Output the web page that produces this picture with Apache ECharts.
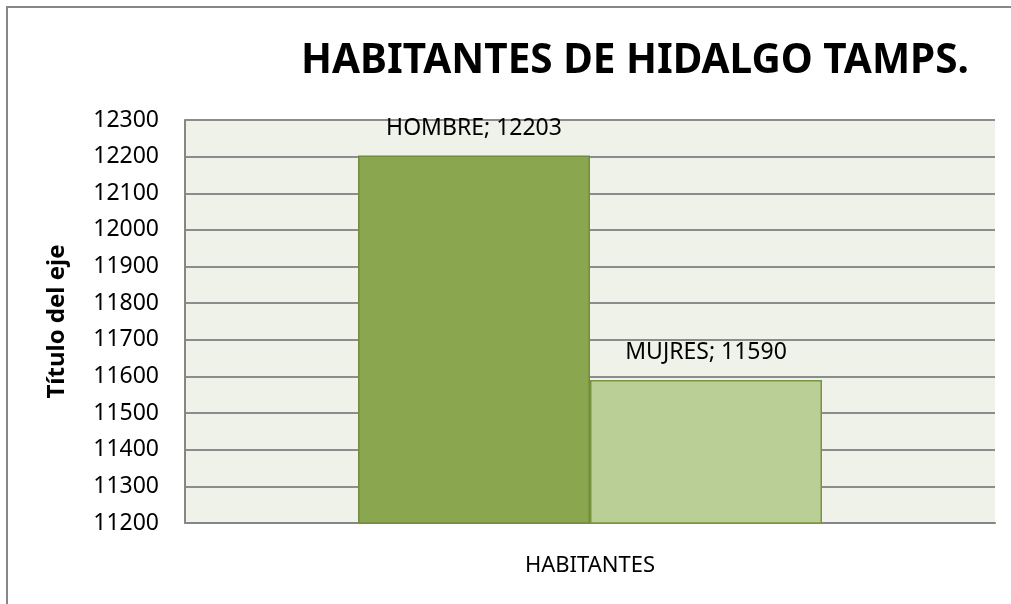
<!DOCTYPE html>
<html>
<head>
<meta charset="utf-8">
<script src="https://cdn.jsdelivr.net/npm/echarts@6/dist/echarts.min.js"></script>
<style>
  html, body { margin: 0; padding: 0; background: #ffffff; }
  #chart { width: 1011px; height: 604px; }
</style>
</head>
<body>
<div id="chart"></div>
<script>
const categories = ['HABITANTES'];
const seriesNames = ['HOMBRE', 'MUJRES'];
const hombreValues = [12203];
const mujeresValues = [11590];
const yTicks = { min: 11200, max: 12300, interval: 100 };

const chart = echarts.init(document.getElementById('chart'));

const barLabel = {
  show: true,
  position: 'top',
  distance: 16,
  color: '#000000',
  fontSize: 23,
  fontFamily: 'Noto Sans',
  formatter: '{a}; {c}'
};

chart.setOption({
  animation: false,
  title: {
    text: 'HABITANTES DE HIDALGO TAMPS.',
    left: 630,
    top: 36,
    textAlign: 'center',
    textStyle: {
      fontFamily: 'Noto Sans',
      fontWeight: 'bold',
      fontSize: 40.5,
      color: '#000000'
    }
  },
  graphic: [
    {
      type: 'rect',
      shape: { x: 7, y: 7, width: 1100, height: 700 },
      style: { fill: 'none', stroke: '#878787', lineWidth: 2 },
      z: -1
    }
  ],
  grid: {
    left: 185,
    top: 120,
    right: 16,
    bottom: 81,
    show: true,
    backgroundColor: '#eff2e9',
    borderWidth: 0
  },
  xAxis: {
    type: 'category',
    data: categories,
    axisLine: { show: true, lineStyle: { color: '#868686', width: 2 } },
    axisTick: { show: false },
    axisLabel: {
      color: '#000000',
      fontSize: 22,
      fontFamily: 'Noto Sans',
      margin: 32
    }
  },
  yAxis: {
    type: 'value',
    min: yTicks.min,
    max: yTicks.max,
    interval: yTicks.interval,
    name: 'Título del eje',
    nameLocation: 'middle',
    nameRotate: 90,
    nameGap: 116,
    nameTextStyle: {
      color: '#000000',
      fontSize: 24,
      fontWeight: 'bold',
      fontFamily: 'Noto Sans'
    },
    axisLine: { show: true, lineStyle: { color: '#868686', width: 2 } },
    axisTick: { show: false },
    axisLabel: {
      color: '#000000',
      fontSize: 23,
      fontFamily: 'Noto Sans',
      margin: 26,
      formatter: (v) => String(v)
    },
    splitLine: { lineStyle: { color: '#8c8c8c', width: 2 } }
  },
  series: [
    {
      name: seriesNames[0],
      type: 'bar',
      data: hombreValues,
      barWidth: 232,
      barGap: '0%',
      itemStyle: { color: '#8aa64f', borderColor: '#728c3c', borderWidth: 1.5 },
      label: barLabel
    },
    {
      name: seriesNames[1],
      type: 'bar',
      data: mujeresValues,
      barWidth: 232,
      barGap: '0%',
      itemStyle: { color: '#b9cf95', borderColor: '#7a9444', borderWidth: 1.5 },
      label: barLabel
    }
  ]
});
</script>
</body>
</html>
